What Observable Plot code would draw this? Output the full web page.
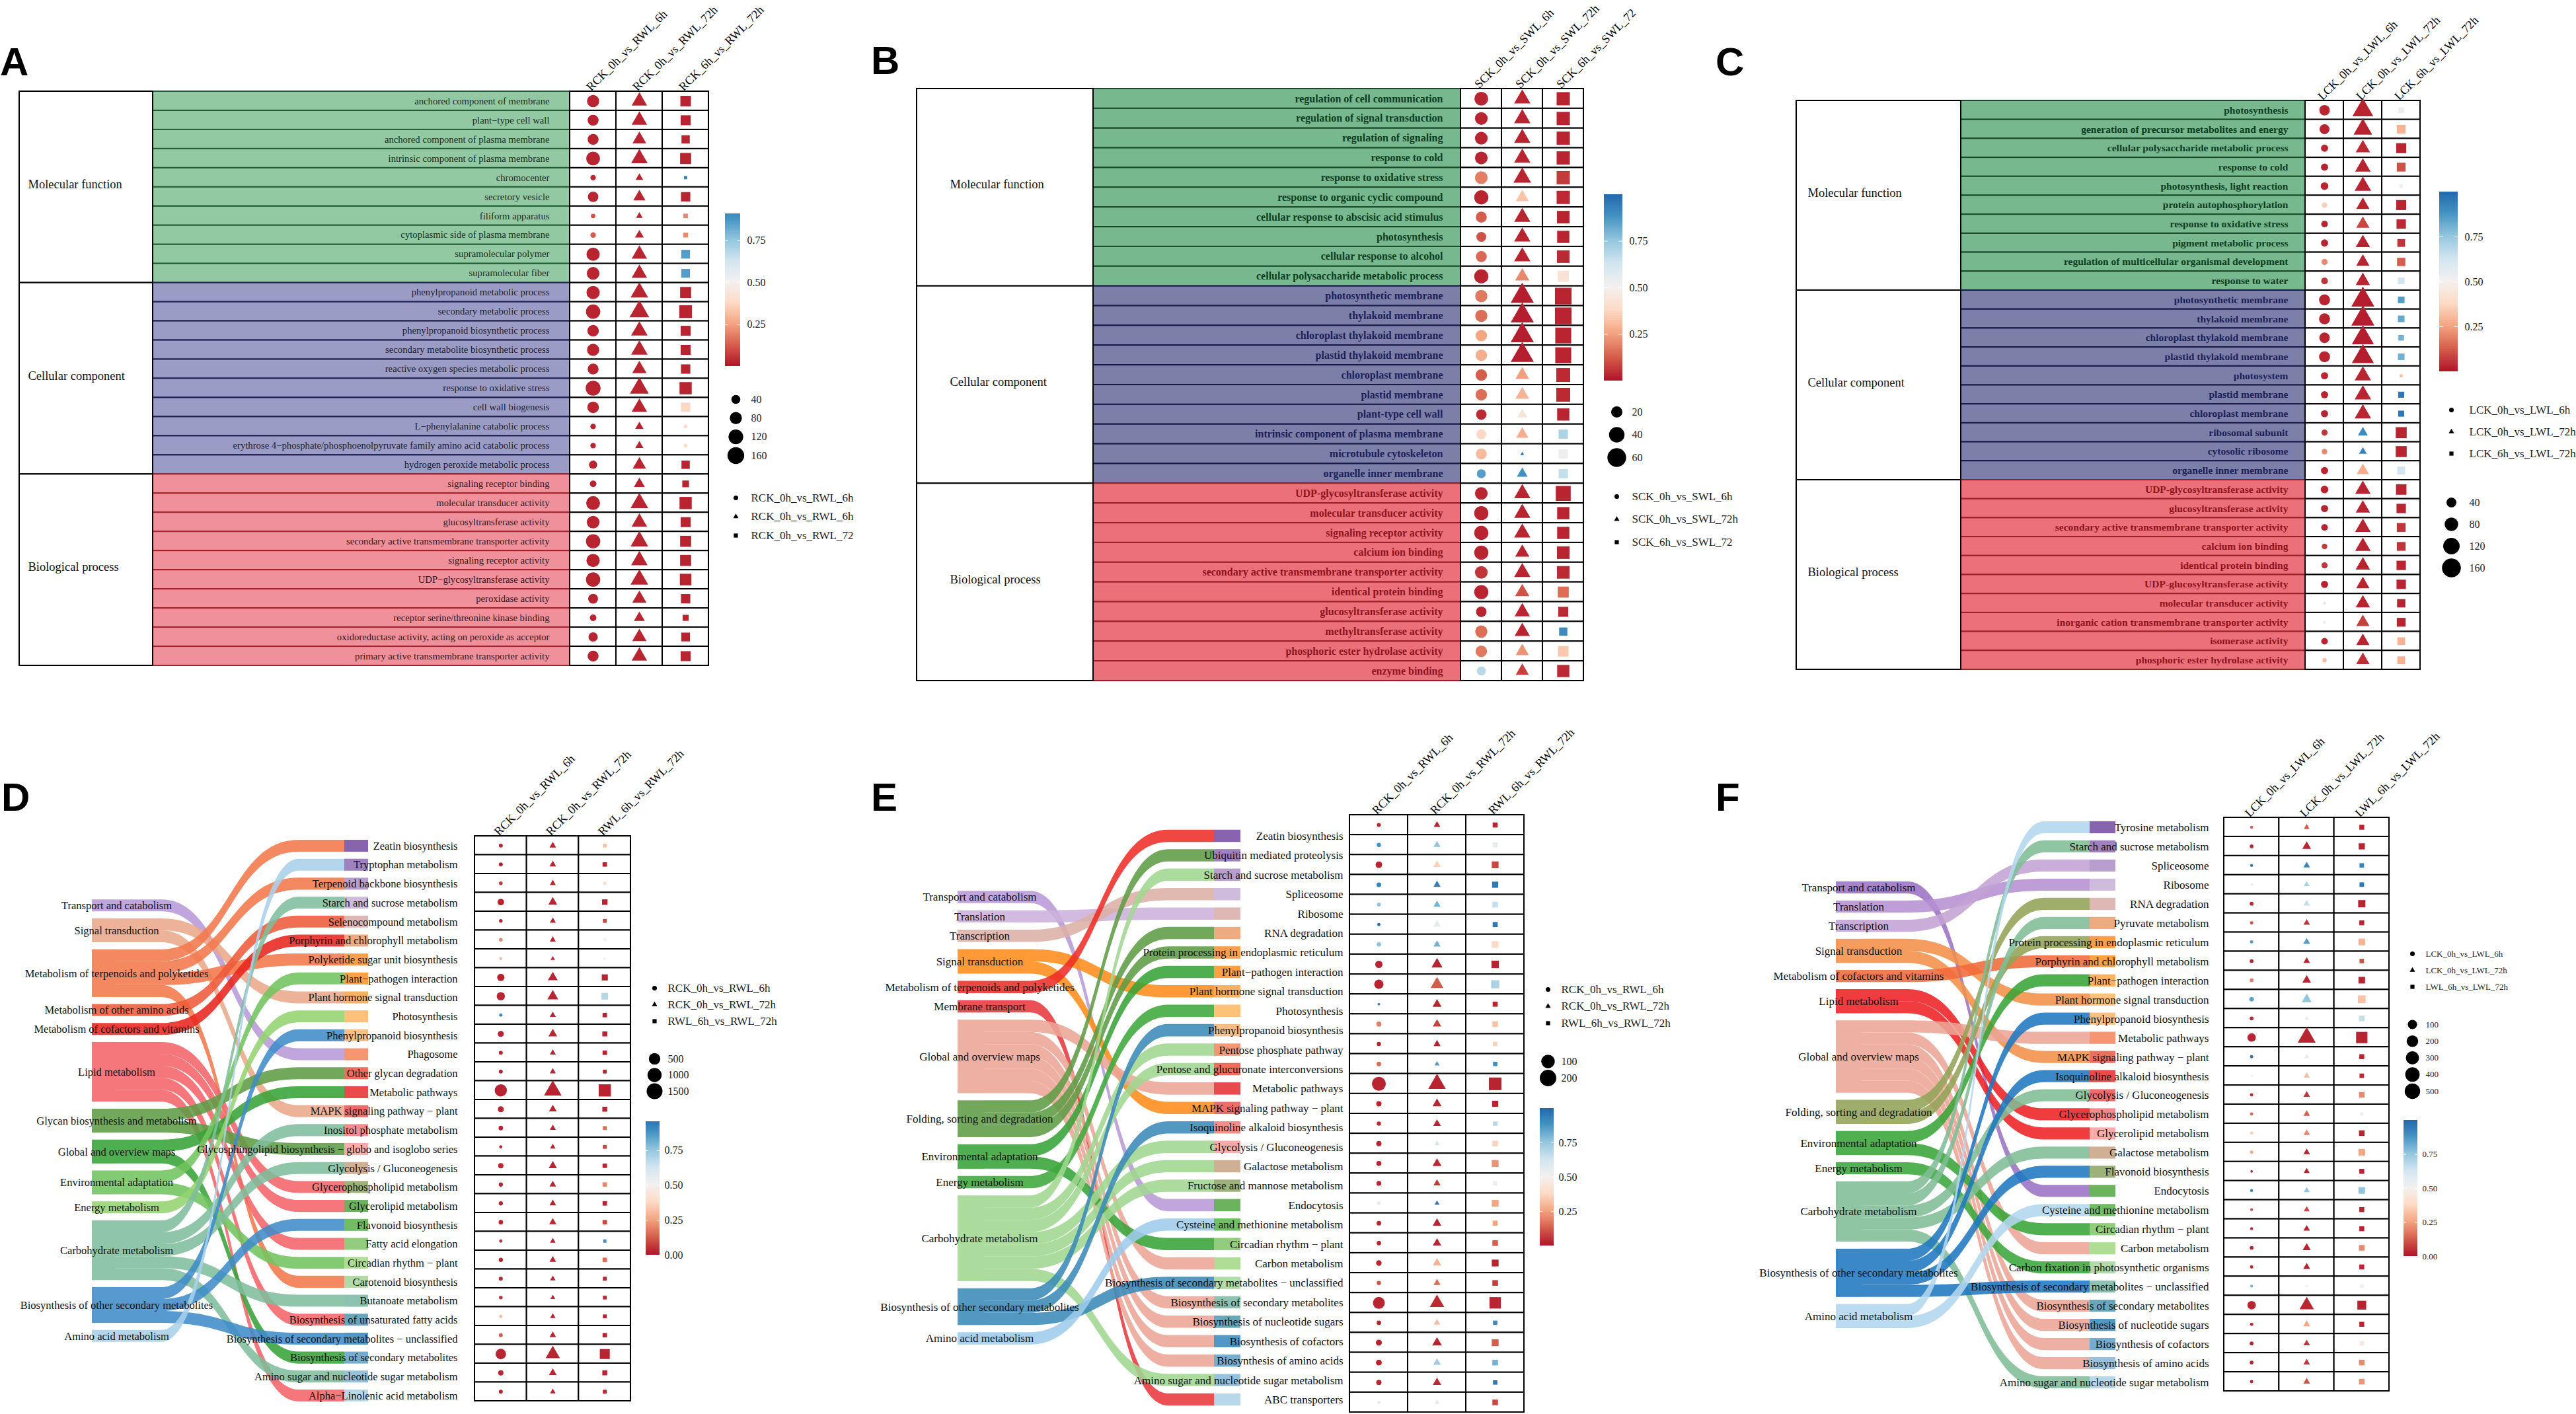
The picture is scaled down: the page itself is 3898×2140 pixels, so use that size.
<!DOCTYPE html>
<html><head><meta charset="utf-8">
<script src="https://cdn.jsdelivr.net/npm/d3@7"></script>
<script src="https://cdn.jsdelivr.net/npm/@observablehq/plot@0.6"></script>
<style>html,body{margin:0;background:#fff}#root{position:relative;width:3898px;height:2140px;overflow:hidden;background:#fff}
.letter{position:absolute;font:bold 60px "Liberation Sans";line-height:1;color:#000}</style>
</head><body><div id="root"></div>
<script>
// ---------- DATA ----------
const goClasses = ["Molecular function","Cellular component","Biological process"];
const compsA = ["RCK_0h_vs_RWL_6h","RCK_0h_vs_RWL_72h","RCK_6h_vs_RWL_72h"];
const shapeA = ["RCK_0h_vs_RWL_6h","RCK_0h_vs_RWL_6h","RCK_0h_vs_RWL_72"];
const compsB = ["SCK_0h_vs_SWL_6h","SCK_0h_vs_SWL_72h","SCK_6h_vs_SWL_72"];
const compsC = ["LCK_0h_vs_LWL_6h","LCK_0h_vs_LWL_72h","LCK_6h_vs_LWL_72h"];
const compsD = ["RCK_0h_vs_RWL_6h","RCK_0h_vs_RWL_72h","RWL_6h_vs_RWL_72h"];
const compsF = ["LCK_0h_vs_LWL_6h","LCK_0h_vs_LWL_72h","LWL_6h_vs_LWL_72h"];

const termsA = ["anchored component of membrane","plant−type cell wall","anchored component of plasma membrane","intrinsic component of plasma membrane","chromocenter","secretory vesicle","filiform apparatus","cytoplasmic side of plasma membrane","supramolecular polymer","supramolecular fiber",
"phenylpropanoid metabolic process","secondary metabolic process","phenylpropanoid biosynthetic process","secondary metabolite biosynthetic process","reactive oxygen species metabolic process","response to oxidative stress","cell wall biogenesis","L−phenylalanine catabolic process","erythrose 4−phosphate/phosphoenolpyruvate family amino acid catabolic process","hydrogen peroxide metabolic process",
"signaling receptor binding","molecular transducer activity","glucosyltransferase activity","secondary active transmembrane transporter activity","signaling receptor activity","UDP−glycosyltransferase activity","peroxidase activity","receptor serine/threonine kinase binding","oxidoreductase activity, acting on peroxide as acceptor","primary active transmembrane transporter activity"];
const countA1 = [80,63,63,105,12,57,7,12,96,88,96,114,71,80,63,124,71,12,12,33,19,105,88,114,96,114,50,19,44,63];
const countA2 = [96,96,74,112,19,57,13,27,96,96,128,166,112,112,81,147,96,23,23,69,44,128,96,128,112,128,81,44,81,96];
const countA3 = [76,67,44,84,4,58,10,12,50,50,84,114,67,67,58,105,58,5,5,44,27,105,67,84,84,94,58,21,50,67];
const padjA1 = [.02,.02,.02,.02,.03,.02,.1,.12,.02,.02,.02,.02,.02,.02,.02,.02,.02,.02,.02,.02,.02,.02,.02,.02,.02,.02,.02,.02,.02,.02];
const padjA2 = [.02,.02,.02,.02,.02,.02,.02,.02,.02,.02,.02,.02,.02,.02,.02,.02,.02,.02,.02,.02,.02,.02,.02,.02,.02,.02,.02,.02,.02,.02];
const padjA3 = [.02,.02,.02,.02,.92,.02,.2,.2,.85,.85,.02,.02,.02,.02,.02,.02,.37,.38,.38,.02,.02,.02,.02,.02,.02,.02,.02,.02,.02,.02];

const termsB = ["regulation of cell communication","regulation of signal transduction","regulation of signaling","response to cold","response to oxidative stress","response to organic cyclic compound","cellular response to abscisic acid stimulus","photosynthesis","cellular response to alcohol","cellular polysaccharide metabolic process",
"photosynthetic membrane","thylakoid membrane","chloroplast thylakoid membrane","plastid thylakoid membrane","chloroplast membrane","plastid membrane","plant-type cell wall","intrinsic component of plasma membrane","microtubule cytoskeleton","organelle inner membrane",
"UDP-glycosyltransferase activity","molecular transducer activity","signaling receptor activity","calcium ion binding","secondary active transmembrane transporter activity","identical protein binding","glucosyltransferase activity","methyltransferase activity","phosphoric ester hydrolase activity","enzyme binding"];
const countB1 = [31,26,26,26,26,33,19,15,19,33,24,24,21,21,21,21,17,15,19,12,26,33,33,33,26,33,17,24,21,12];
const countB2 = [32,32,32,32,38,20,32,32,32,24,68,68,68,68,22,22,11,17,1,13,32,32,32,24,32,24,28,28,20,20];
const countB3 = [37,37,37,37,37,37,33,31,33,25,60,60,55,55,41,41,31,17,17,17,48,31,31,33,33,25,20,13,23,31];
const padjB1 = [.02,.02,.02,.02,.18,.02,.12,.1,.14,.02,.17,.15,.25,.27,.12,.15,.03,.37,.3,.85,.02,.02,.02,.02,.05,.02,.02,.15,.17,.68];
const padjB2 = [.02,.02,.02,.02,.02,.32,.02,.02,.02,.2,.01,.01,.01,.01,.24,.28,.42,.27,.95,.88,.02,.02,.02,.02,.02,.1,.02,.02,.22,.07];
const padjB3 = [.02,.02,.02,.02,.06,.03,.02,.02,.03,.42,.02,.02,.02,.02,.03,.03,.02,.7,.52,.65,.02,.02,.02,.02,.03,.15,.03,.9,.33,.03];

const termsC = ["photosynthesis","generation of precursor metabolites and energy","cellular polysaccharide metabolic process","response to cold","photosynthesis, light reaction","protein autophosphorylation","response to oxidative stress","pigment metabolic process","regulation of multicellular organismal development","response to water",
"photosynthetic membrane","thylakoid membrane","chloroplast thylakoid membrane","plastid thylakoid membrane","photosystem","plastid membrane","chloroplast membrane","ribosomal subunit","cytosolic ribosome","organelle inner membrane",
"UDP-glycosyltransferase activity","glucosyltransferase activity","secondary active transmembrane transporter activity","calcium ion binding","identical protein binding","UDP-glucosyltransferase activity","molecular transducer activity","inorganic cation transmembrane transporter activity","isomerase activity","phosphoric ester hydrolase activity"];
const countC1 = [46,41,20,20,23,11,17,20,14,17,51,51,46,51,20,20,20,14,11,20,23,20,17,11,14,20,3,3,17,6];
const countC2 = [144,113,65,76,87,55,55,65,55,65,177,177,161,161,87,87,87,29,17,46,76,65,76,76,65,55,65,55,55,55];
const countC3 = [15,41,54,41,5,54,47,31,36,22,22,22,15,22,3,18,18,66,66,31,60,47,41,41,47,47,36,41,31,31];
const padjC1 = [.02,.02,.02,.02,.02,.35,.02,.02,.2,.05,.02,.02,.02,.02,.02,.02,.02,.05,.2,.02,.02,.02,.02,.06,.05,.02,.55,.52,.02,.3];
const padjC2 = [.02,.02,.03,.02,.02,.02,.08,.02,.02,.02,.01,.01,.01,.01,.02,.02,.02,.9,.92,.27,.02,.02,.02,.02,.02,.02,.02,.07,.02,.04];
const padjC3 = [.52,.28,.02,.1,.52,.02,.03,.05,.12,.62,.85,.82,.8,.8,.3,.95,.95,.02,.02,.62,.02,.02,.05,.05,.02,.02,.02,.02,.28,.28];

const catsD = ["Transport and catabolism","Signal transduction","Metabolism of terpenoids and polyketides","Metabolism of other amino acids","Metabolism of cofactors and vitamins","Lipid metabolism","Glycan biosynthesis and metabolism","Global and overview maps","Environmental adaptation","Energy metabolism","Carbohydrate metabolism","Biosynthesis of other secondary metabolites","Amino acid metabolism"];
const termsD = ["Zeatin biosynthesis","Tryptophan metabolism","Terpenoid backbone biosynthesis","Starch and sucrose metabolism","Selenocompound metabolism","Porphyrin and chlorophyll metabolism","Polyketide sugar unit biosynthesis","Plant−pathogen interaction","Plant hormone signal transduction","Photosynthesis","Phenylpropanoid biosynthesis","Phagosome","Other glycan degradation","Metabolic pathways","MAPK signaling pathway − plant","Inositol phosphate metabolism","Glycosphingolipid biosynthesis − globo and isoglobo series","Glycolysis / Gluconeogenesis","Glycerophospholipid metabolism","Glycerolipid metabolism","Flavonoid biosynthesis","Fatty acid elongation","Circadian rhythm − plant","Carotenoid biosynthesis","Butanoate metabolism","Biosynthesis of unsaturated fatty acids","Biosynthesis of secondary metabolites − unclassified","Biosynthesis of secondary metabolites","Amino sugar and nucleotide sugar metabolism","Alpha−Linolenic acid metabolism"];
const linkD = [2,12,2,10,3,4,2,8,1,9,11,0,6,7,1,10,6,10,5,5,11,5,8,2,10,5,11,7,10,5];
const countD1 = [22,22,18,89,18,18,11,118,170,14,70,22,22,605,65,30,14,47,25,25,30,14,25,22,18,13,22,365,47,22];
const countD2 = [58,58,44,131,44,44,20,187,256,44,131,44,44,1250,89,44,35,111,58,58,70,35,58,35,26,35,58,625,89,35];
const countD3 = [28,41,19,74,28,13,8,100,131,41,54,41,28,915,54,28,28,41,41,41,41,19,41,28,28,28,41,468,54,28];
const padjD1 = [.03,.02,.05,.02,.02,.2,.3,.02,.02,.92,.02,.02,.02,.02,.02,.02,.03,.02,.02,.02,.02,.04,.02,.02,.05,.3,.12,.02,.02,.02];
const padjD2 = [.02,.02,.02,.02,.02,.02,.02,.02,.02,.02,.02,.02,.02,.02,.02,.02,.02,.02,.02,.02,.02,.02,.02,.02,.02,.02,.02,.02,.02,.02];
const padjD3 = [.32,.02,.4,.02,.08,.5,.5,.02,.68,.02,.02,.02,.02,.02,.02,.15,.08,.02,.2,.02,.08,.88,.15,.02,.03,.02,.02,.02,.02,.02];

const catsE = ["Transport and catabolism","Translation","Transcription","Signal transduction","Metabolism of terpenoids and polyketides","Membrane transport","Global and overview maps","Folding, sorting and degradation","Environmental adaptation","Energy metabolism","Carbohydrate metabolism","Biosynthesis of other secondary metabolites","Amino acid metabolism"];
const termsE = ["Zeatin biosynthesis","Ubiquitin mediated proteolysis","Starch and sucrose metabolism","Spliceosome","Ribosome","RNA degradation","Protein processing in endoplasmic reticulum","Plant−pathogen interaction","Plant hormone signal transduction","Photosynthesis","Phenylpropanoid biosynthesis","Pentose phosphate pathway","Pentose and glucuronate interconversions","Metabolic pathways","MAPK signaling pathway − plant","Isoquinoline alkaloid biosynthesis","Glycolysis / Gluconeogenesis","Galactose metabolism","Fructose and mannose metabolism","Endocytosis","Cysteine and methionine metabolism","Circadian rhythm − plant","Carbon metabolism","Biosynthesis of secondary metabolites − unclassified","Biosynthesis of secondary metabolites","Biosynthesis of nucleotide sugars","Biosynthesis of cofactors","Biosynthesis of amino acids","Amino sugar and nucleotide sugar metabolism","ABC transporters"];
const linkE = [4,7,10,2,1,7,7,8,3,9,11,10,10,6,3,11,10,10,10,0,12,8,6,11,6,6,6,6,10,5];
const countE1 = [2.5,3,10,3.8,2.5,1.6,3.4,14,29,1,4.8,3,3.8,110,5.4,3,5.4,4.8,4.2,2.5,3.8,3.4,6,3,65,3.4,7.6,7,5.4,1.6];
const countE2 = [6.5,8,10,8,8,10,8,31,50,16,13.5,8,3.2,145,16,10,3.2,16,8,3.2,13.5,13.5,13.5,8,73,6.5,20,10,13.5,3.2];
const countE3 = [6.6,6.6,16,11.5,9,6.6,16,21,28,6.6,9,4.5,4.5,120,11.5,4.5,9,16,4.5,16,6.6,9,16,9,85,4.5,16,9,4.5,9];
const padjE1 = [.02,.88,.02,.92,.75,.97,.75,.02,.02,.9,.18,.02,.15,.02,.02,.03,.02,.02,.02,.55,.02,.02,.02,.1,.02,.02,.02,.02,.02,.55];
const padjE2 = [.02,.75,.35,.93,.8,.55,.8,.02,.12,.02,.07,.02,.85,.02,.02,.02,.62,.03,.06,.95,.02,.02,.28,.15,.03,.3,.02,.72,.03,.55];
const padjE3 = [.02,.55,.08,.95,.65,.95,.38,.02,.7,.02,.32,.35,.88,.02,.02,.68,.36,.22,.52,.25,.25,.12,.02,.06,.02,.9,.12,.8,.95,.08];

const catsF = ["Transport and catabolism","Translation","Transcription","Signal transduction","Metabolism of cofactors and vitamins","Lipid metabolism","Global and overview maps","Folding, sorting and degradation","Environmental adaptation","Energy metabolism","Carbohydrate metabolism","Biosynthesis of other secondary metabolites","Amino acid metabolism"];
const termsF = ["Tyrosine metabolism","Starch and sucrose metabolism","Spliceosome","Ribosome","RNA degradation","Pyruvate metabolism","Protein processing in endoplasmic reticulum","Porphyrin and chlorophyll metabolism","Plant−pathogen interaction","Plant hormone signal transduction","Phenylpropanoid biosynthesis","Metabolic pathways","MAPK signaling pathway − plant","Isoquinoline alkaloid biosynthesis","Glycolysis / Gluconeogenesis","Glycerophospholipid metabolism","Glycerolipid metabolism","Galactose metabolism","Flavonoid biosynthesis","Endocytosis","Cysteine and methionine metabolism","Circadian rhythm − plant","Carbon metabolism","Carbon fixation in photosynthetic organisms","Biosynthesis of secondary metabolites − unclassified","Biosynthesis of secondary metabolites","Biosynthesis of nucleotide sugars","Biosynthesis of cofactors","Biosynthesis of amino acids","Amino sugar and nucleotide sugar metabolism"];
const linkF = [12,10,2,1,7,10,7,4,8,3,11,6,3,11,10,5,5,10,11,0,12,8,6,9,11,6,6,6,6,10];
const countF1 = [6,10,6,4.5,10,7.6,7.6,10,10,14,10,76,7.6,4.5,7.6,7.6,7.6,7.6,4.5,6,6,6,10,7.6,6,76,7.6,10,10,7.6];
const countF2 = [17,54,25,20,25,25,30,25,54,75,10,490,13,20,25,25,25,25,20,20,20,25,44,30,7.6,240,30,25,25,25];
const countF3 = [25,44,20,20,70,25,54,20,54,85,34,270,25,20,34,10,34,54,25,54,25,25,34,25,15,125,25,20,34,34];
const padjF1 = [.12,.03,.95,.55,.02,.1,.85,.02,.18,.85,.02,.02,.95,.5,.03,.15,.35,.25,.02,.93,.1,.03,.02,.02,.8,.02,.03,.02,.02,.02];
const padjF2 = [.1,.02,.92,.7,.65,.05,.85,.02,.02,.75,.45,.02,.55,.3,.05,.12,.2,.02,.02,.75,.08,.02,.02,.02,.5,.02,.25,.05,.05,.1];
const padjF3 = [.02,.02,.92,.95,.02,.02,.28,.1,.02,.32,.65,.02,.02,.03,.2,.48,.02,.25,.02,.75,.02,.02,.2,.02,.5,.02,.02,.45,.2,.22];

// ---------- STYLE ----------
const SERIF = '"Liberation Serif"';
const root = document.getElementById("root");
const rdbu = ["#b2182b","#d6604d","#f4a582","#fddbc7","#f3f0f0","#d1e5f0","#92c5de","#4393c3","#2166ac"];
const pColor = {type:"linear",domain:d3.range(9).map(i=>i/8),range:rdbu,interpolate:"rgb"};
const paired = ["#6a3d9a","#cab2d6","#ff7f00","#fdbf6f","#e31a1c","#fb9a99","#33a02c","#b2df8a","#1f78b4","#a6cee3"];
const ramp = d3.piecewise(d3.interpolateRgb,paired);
const narrowTriangle = {draw(ctx,size){d3.symbolTriangle.draw(ctx,size*0.75);}};
const symbols = ["circle",narrowTriangle,"square"];
const leftD = ["#b79ad8","#eba98a","#f2784b","#ee5a3a","#e8251e","#f4646a","#5e9c46","#37a338","#72c45e","#93d46f","#80bd9c","#3f8cc8","#aad0ea"];
const leftE = ["#b79ad8","#cdb0dc","#dcafa6","#ff8c1a","#ee2e28","#e8383c","#eca596","#5e9c46","#37a338","#3fa83c","#9fd78f","#3a8ab8","#9ecbea"];
const leftF = ["#9b72c4","#b690d0","#c4a2d4","#f29048","#f06a3a","#ee2024","#eca596","#92a456","#38a436","#3aa63a","#7fbd96","#1f78c0","#b2d6ee"];

function place(opts,left,top,width,height){
  root.append(Plot.plot({width,height,marginLeft:0,marginRight:0,marginTop:0,marginBottom:0,
    style:{position:"absolute",left:left+"px",top:top+"px",background:"transparent",overflow:"visible",maxWidth:"none",fontFamily:SERIF},...opts}));
}
function letter(t,x,y){const d=document.createElement("div");d.className="letter";d.textContent=t;d.style.left=x+"px";d.style.top=y+"px";root.append(d);}

function cellsOf(counts,padjs){
  return counts.flatMap((col,c)=>col.map((n,i)=>({c,i,n,p:padjs[c][i]})));
}
function headerAxis(comps,fs){
  return Plot.axisX({anchor:"top",ticks:[.5,1.5,2.5],tickFormat:v=>comps[v-.5],tickRotate:-45,tickSize:0,tickPadding:4,dx:-7,label:null,fontSize:fs,fontFamily:SERIF});
}
function cellMarks(cells){
  return [
    Plot.rect(cells,{x1:d=>d.c,x2:d=>d.c+1,y1:d=>d.i,y2:d=>d.i+1,fill:"white",stroke:"black",strokeWidth:2}),
    ...symbols.map((s,k)=>Plot.dot(cells.filter(d=>d.c===k),{x:d=>d.c+.5,y:d=>d.i+.5,r:d=>d.n,fill:d=>d.p,symbol:s}))
  ];
}

// GO table: class column + term column + three comparison columns
function goTable(o){
  const colW=(o.right-o.termRight)/3, a=(o.bound-o.left)/colW, b=(o.termRight-o.bound)/colW;
  const H=o.bottom-o.top, W=o.right-o.left, n=o.terms.length;
  const rows=o.terms.map((t,i)=>({t,i,k:Math.floor(i/10)}));
  const toX=px=>(px-o.termRight)/colW;
  const classes=goClasses.map((name,k)=>({name,k}));
  place({
    x:{domain:[-a-b,3],range:[0,W],axis:null},
    y:{domain:[0,n],range:[0,H],axis:null},
    r:o.r,color:pColor,
    marks:[
      ...[0,1,2].map(k=>Plot.rect(rows.filter(d=>d.k===k),{x1:-b,x2:0,y1:d=>d.i,y2:d=>d.i+1,fill:o.rowFill[k],stroke:o.rowLine[k],strokeWidth:2})),
      Plot.rect(classes,{x1:-a-b,x2:-b,y1:d=>d.k*10,y2:d=>(d.k+1)*10,fill:"white",stroke:"black",strokeWidth:2}),
      Plot.text(classes,{x:toX(o.classX),y:d=>d.k*10+4.85,text:d=>d.name,textAnchor:"start",fontSize:o.classFont,fill:"#111",fontFamily:SERIF}),
      ...[0,1,2].map(k=>Plot.text(rows.filter(d=>d.k===k),{x:toX(o.labelRight),y:d=>d.i+.5,text:d=>d.t,textAnchor:"end",fontSize:o.termFont,fontWeight:o.termWeight,fill:o.termFill[k],fontFamily:SERIF})),
      ...cellMarks(cellsOf(o.counts,o.padjs)),
      headerAxis(o.comps,o.headFont)
    ]
  },o.left,o.top,W,H);
}

// Alluvial: categories on the left, one ribbon per term on the right
function sankey(o){
  const h=.63,gap=.37,n=o.terms.length,m=o.cats.length;
  const W=o.rEnd-o.nodeL, H=o.lastY-o.firstY, nodeW=o.rEnd-o.rStart, L=(o.rStart-o.nodeL)/nodeW;
  const bendA=1+(L-1)*.2, bendB=1+(L-1)*.8;
  const total=n*h+(m-1)*gap; let cur=(n-1)/2-total/2;
  const catRows=[],linkRows=[];
  o.cats.forEach((name,k)=>{
    const top=cur;
    o.link.forEach((cat,i)=>{ if(cat===k){
      const fill=o.colors[k],a={y1:cur,y2:cur+h},b={y1:i-h/2,y2:i+h/2};
      linkRows.push({id:i,x:1,...a,fill},{id:i,x:bendA,...a,fill},{id:i,x:bendB,...b,fill},{id:i,x:L,...b,fill});
      cur+=h; }});
    catRows.push({name,y1:top,y2:cur,fill:o.colors[k]});
    cur+=gap;
  });
  const termRows=o.terms.map((t,i)=>({t,i,fill:ramp(i/(n-1))}));
  place({
    x:{domain:[0,W/nodeW],range:[0,W],axis:null},
    y:{domain:[0,n-1],range:[0,H],axis:null},
    color:{type:"identity"},
    marks:[
      Plot.rect(catRows,{x1:0,x2:1,y1:d=>d.y1,y2:d=>d.y2,fill:d=>d.fill,fillOpacity:.88}),
      Plot.areaY(linkRows,{x:d=>d.x,y1:d=>d.y1,y2:d=>d.y2,z:d=>d.id,fill:d=>d.fill,curve:"bump-x",fillOpacity:.88}),
      Plot.rect(termRows,{x1:L,x2:L+1,y1:d=>d.i-h/2,y2:d=>d.i+h/2,fill:d=>d.fill,fillOpacity:.8}),
      Plot.text(catRows,{x:(o.catX-o.nodeL)/nodeW,y:d=>(d.y1+d.y2)/2,text:d=>d.name,textAnchor:"middle",fontSize:o.font,fill:"#111",fontFamily:SERIF}),
      Plot.text(termRows,{x:(o.labelRight-o.nodeL)/nodeW,y:d=>d.i,text:d=>d.t,textAnchor:"end",fontSize:o.font,fill:"#111",fontFamily:SERIF})
    ]
  },o.nodeL,o.firstY,W,H);
}
function dotTable(o){
  const W=o.right-o.left,H=o.bottom-o.top;
  place({
    x:{domain:[0,3],range:[0,W],axis:null},
    y:{domain:[0,o.counts[0].length],range:[0,H],axis:null},
    r:o.r,color:pColor,
    marks:[...cellMarks(cellsOf(o.counts,o.padjs)),headerAxis(o.comps,o.headFont)]
  },o.left,o.top,W,H);
}
function colorbar(o){
  const W=o.x2-o.x1,H=o.bottom-o.top,dv=o.max/80,steps=d3.range(80).map(i=>i*dv);
  place({
    x:{domain:[0,1],range:[0,W],axis:null},
    y:{domain:[0,o.max],range:[H,0],axis:null},
    color:pColor,
    marks:[
      Plot.rect(steps,{x1:0,x2:1,y1:v=>v,y2:v=>Math.min(o.max,v+dv*1.5),fill:v=>v}),
      Plot.ruleY(o.ticks.filter(v=>v>0),{x1:0,x2:.2,stroke:"white"}),
      Plot.ruleY(o.ticks.filter(v=>v>0),{x1:.8,x2:1,stroke:"white"}),
      Plot.axisY({anchor:"right",ticks:o.ticks,tickSize:0,tickPadding:o.pad,tickFormat:".2f",label:null,fontSize:o.font,fontFamily:SERIF,fill:"#222"})
    ]
  },o.x1,o.top,W,H);
}
function shapeLegend(o){
  const rows=o.names.map((name,i)=>({name,i,s:symbols[i]}));
  const W=o.textX-o.x,H=o.y3-o.y1;
  place({
    x:{domain:[0,1],range:[0,W],axis:null},
    y:{domain:[0,2],range:[0,H],axis:null},
    marks:[
      ...rows.map(d=>Plot.dot([d],{x:0,y:e=>e.i,r:3.5,fill:"black",symbol:d.s})),
      Plot.text(rows,{x:1,y:d=>d.i,text:d=>d.name,textAnchor:"start",fontSize:o.font,fill:"#222",fontFamily:SERIF})
    ]
  },o.x,o.y1,W,H);
}
function sizeLegend(o){
  const W=o.textX-o.x,H=o.yLast-o.yFirst,k=o.values.length-1;
  const rows=o.values.map((v,i)=>({v,i}));
  place({
    x:{domain:[0,1],range:[0,W],axis:null},
    y:{domain:[0,k],range:[0,H],axis:null},
    r:o.r,
    marks:[
      Plot.dot(rows,{x:0,y:d=>d.i,r:d=>d.v,fill:"black"}),
      Plot.text(rows,{x:1,y:d=>d.i,text:d=>String(d.v),textAnchor:"start",fontSize:o.font,fill:"#222",fontFamily:SERIF})
    ]
  },o.x,o.yFirst,W,H);
}

// ---------- PANELS ----------
const ticks3=[.25,.5,.75], ticks4=[0,.25,.5,.75];
const headFont=18;

// A
const rA={type:"sqrt",domain:[5,170],range:[3,13]};
goTable({terms:termsA,comps:compsA,left:29,bound:231,termRight:862,right:1072,top:138,bottom:1007,classX:42,labelRight:831,classFont:18.5,termFont:14.7,termWeight:400,headFont,
  rowFill:["#92c9a3","#9a9cc5","#f0909a"],rowLine:["#1f5c35","#1c2050","#a5222c"],termFill:["#1c2c22","#1c1c30","#3a1418"],
  r:rA,counts:[countA1,countA2,countA3],padjs:[padjA1,padjA2,padjA3]});
colorbar({x1:1097,x2:1120,top:323,bottom:554,max:.91,ticks:ticks3,pad:10,font:16});
sizeLegend({x:1113,textX:1136,yFirst:604,yLast:689,values:[40,80,120,160],r:rA,font:16});
shapeLegend({x:1113,textX:1136,y1:753,y3:810,names:shapeA,font:17});
letter("A",0,64);

// B
const rB={type:"sqrt",domain:[1,90],range:[2.5,17.2]};
goTable({terms:termsB,comps:compsB,left:1387,bound:1654,termRight:2210,right:2396,top:134,bottom:1030,classX:1437,labelRight:2183,classFont:18.5,termFont:16,termWeight:700,headFont,
  rowFill:["#77b88e","#7c80a9","#ec7079"],rowLine:["#174a2a","#161a48","#9c1e28"],termFill:["#0e3d22","#1c1f58","#8c1420"],
  r:rB,counts:[countB1,countB2,countB3],padjs:[padjB1,padjB2,padjB3]});
colorbar({x1:2427,x2:2455,top:294,bottom:576,max:1,ticks:ticks3,pad:10,font:16});
sizeLegend({x:2446,textX:2469,yFirst:623,yLast:692,values:[20,40,60],r:rB,font:16});
shapeLegend({x:2446,textX:2469,y1:751,y3:820,names:compsB,font:17});
letter("B",1318,62);

// C
const rC={type:"sqrt",domain:[5,230],range:[3,17]};
goTable({terms:termsC,comps:compsC,left:2718,bound:2967,termRight:3488,right:3662,top:152,bottom:1013,classX:2735,labelRight:3462,classFont:18.5,termFont:15.5,termWeight:700,headFont,
  rowFill:["#77b88e","#7c80a9","#ec7079"],rowLine:["#174a2a","#161a48","#9c1e28"],termFill:["#0e3d22","#1c1f58","#8c1420"],
  r:rC,counts:[countC1,countC2,countC3],padjs:[padjC1,padjC2,padjC3]});
colorbar({x1:3691,x2:3719,top:290,bottom:562,max:1,ticks:ticks3,pad:10,font:16});
shapeLegend({x:3709,textX:3736,y1:620,y3:686,names:compsC,font:17});
sizeLegend({x:3709,textX:3736,yFirst:760,yLast:859,values:[40,80,120,160],r:rC,font:16});
letter("C",2596,64);

// D
const rD={type:"pow",exponent:.25,domain:[5,1500],range:[1.5,12]};
sankey({cats:catsD,terms:termsD,link:linkD,colors:leftD,nodeL:139,rStart:521,rEnd:557,firstY:1280,lastY:2112,catX:176,labelRight:692,font:16.5});
dotTable({left:718,right:954,top:1265,bottom:2120,comps:compsD,r:rD,headFont,counts:[countD1,countD2,countD3],padjs:[padjD1,padjD2,padjD3]});
shapeLegend({x:990,textX:1010,y1:1495,y3:1545,names:compsD,font:17});
sizeLegend({x:990,textX:1010,yFirst:1602,yLast:1651,values:[500,1000,1500],r:rD,font:16});
colorbar({x1:977,x2:998,top:1697,bottom:1899,max:.957,ticks:ticks4,pad:7,font:16});
letter("D",2,1177);

// E
const rE={type:"pow",exponent:.25,domain:[1,200],range:[2,12.5]};
sankey({cats:catsE,terms:termsE,link:linkE,colors:leftE,nodeL:1449,rStart:1837,rEnd:1877,firstY:1265,lastY:2118,catX:1482,labelRight:2032,font:17});
dotTable({left:2042,right:2306,top:1233,bottom:2137,comps:compsD,r:rE,headFont,counts:[countE1,countE2,countE3],padjs:[padjE1,padjE2,padjE3]});
shapeLegend({x:2342,textX:2362,y1:1497,y3:1548,names:compsD,font:17});
sizeLegend({x:2342,textX:2362,yFirst:1606,yLast:1631,values:[100,200],r:rE,font:16});
colorbar({x1:2330,x2:2351,top:1677,bottom:1885,max:1,ticks:ticks3,pad:7,font:16});
letter("E",1318,1177);

// F
const rF={type:"pow",exponent:.25,domain:[5,500],range:[2,11.7]};
sankey({cats:catsF,terms:termsF,link:linkF,colors:leftF,nodeL:2778,rStart:3162,rEnd:3201,firstY:1252,lastY:2092,catX:2812,labelRight:3342,font:17});
dotTable({left:3365,right:3615,top:1237,bottom:2105,comps:compsF,r:rF,headFont,counts:[countF1,countF2,countF3],padjs:[padjF1,padjF2,padjF3]});
shapeLegend({x:3650,textX:3670,y1:1443,y3:1493,names:compsF,font:13});
sizeLegend({x:3650,textX:3670,yFirst:1550,yLast:1651,values:[100,200,300,400,500],r:rF,font:13});
colorbar({x1:3637,x2:3658,top:1695,bottom:1901,max:1,ticks:ticks4,pad:7,font:13});
letter("F",2596,1177);
</script></body></html>
